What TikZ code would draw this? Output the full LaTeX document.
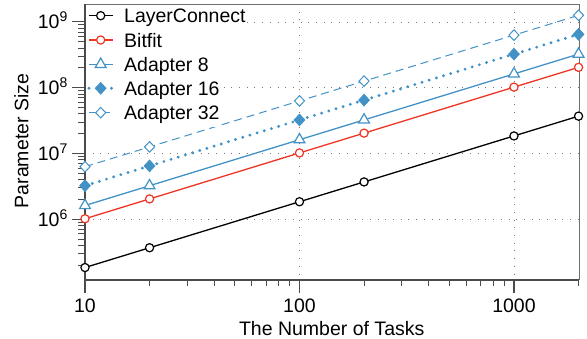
\documentclass[tikz,border=0pt]{standalone}
\usepackage{fontspec}
\setmainfont{Liberation Sans}
\usetikzlibrary{shapes.geometric}

\definecolor{bfred}{RGB}{238,52,36}
\definecolor{adblue}{RGB}{66,146,198}
\definecolor{axisgray}{RGB}{75,75,75}
\definecolor{framegray}{RGB}{110,110,110}
\definecolor{gridgray}{RGB}{120,120,120}

% log-log mapping: x = number of tasks, y = log10(parameter count)
\newcommand\px[1]{85+214.5*(log10(#1)-1)}
\newcommand\py[1]{219.3-65.8*((#1)-6)}

\begin{document}
\begin{tikzpicture}[x=1pt,y=-1pt,
  font=\fontsize{19.5}{22}\selectfont,
  gridline/.style={gridgray, line width=0.8pt, dash pattern=on 0.8pt off 6.9pt},
  axisline/.style={axisgray, line width=1.1pt},
  frameline/.style={framegray, line width=1pt},
  tickmark/.style={axisgray, line width=1.1pt},
  lcline/.style={black, line width=1.3pt},
  bfline/.style={bfred, line width=1.3pt},
  aaline/.style={adblue, line width=1.3pt},
  abline/.style={adblue, line width=3.2pt, line cap=round, dash pattern=on 0pt off 7.5pt},
  acline/.style={adblue, line width=1pt, dash pattern=on 8pt off 5pt},
  circmark/.style={circle, draw, fill=white, line width=1.2pt, minimum size=8.2pt, inner sep=0pt},
  trimark/.style={regular polygon, regular polygon sides=3, draw=adblue, fill=white,
    line width=1.2pt, minimum size=12.5pt, inner sep=0pt},
  fdiamark/.style={diamond, draw=adblue, fill=adblue, line width=0.8pt,
    minimum width=11pt, minimum height=12pt, inner sep=0pt},
  odiamark/.style={diamond, draw=adblue, fill=white, line width=1pt,
    minimum width=10.5pt, minimum height=11pt, inner sep=0pt},
  legtext/.style={anchor=base west, fill=white, inner xsep=1pt, inner ysep=3pt},
]
\useasboundingbox (0,0) rectangle (587,338);

% grid at the decades
\foreach \d in {6,...,9}
  \draw[gridline] (85,{\py{\d}}) -- (579,{\py{\d}});
\foreach \n in {100,1000}
  \draw[gridline] ({\px{\n}},4) -- ({\px{\n}},280);

% frame
\coordinate (bl) at (85,280);
\coordinate (tl) at (85,4);
\coordinate (tr) at (579,4);
\coordinate (br) at (579,280);
\draw[frameline] (tl) -- (tr) -- (br);
\draw[axisline] (tl) -- (bl) -- (br);

% y ticks (outside)
\foreach \d in {5,6,7,8}
  \foreach \m in {2,...,9}
    \draw[tickmark] (85,{\py{\d+log10(\m)}}) -- ++(-7,0);
\foreach \d in {6,...,9}{
  \draw[tickmark] (85,{\py{\d}}) -- ++(-12.7,0);
  \node[anchor=base east, inner sep=0pt] (ylab\d) at (67.5,{\py{\d}+7})
    {10\raisebox{7.3pt}{\fontsize{14}{14}\selectfont\d}};
}

% x ticks (outside)
\foreach \n in {20,30,...,90,200,300,...,900,2000}
  \draw[tickmark] ({\px{\n}},280) -- ++(0,6);
\foreach \n in {10,100,1000}{
  \draw[tickmark] ({\px{\n}},280) -- ++(0,13);
  \node[anchor=base, inner sep=0pt] (xlab\n) at ({\px{\n}},312.3) {\n};
}

% axis titles
\node[anchor=base, inner sep=0pt] (xtitle) at (331.7,335.3) {The Number of Tasks};
\node[anchor=base, rotate=90, inner sep=0pt] (ytitle) at (28.3,141) {Parameter Size};

% data points: log10 of parameters per task for each method
\foreach \name/\c in {lc/4.267, bf/5.0086, aa/5.2095, ab/5.5105, ac/5.7993}
  \foreach \n [count=\i] in {10,20,100,200,1000,2000}
    \coordinate (\name\i) at ({\px{\n}},{\py{\c+log10(\n)}});

\draw[acline] (ac1) -- (ac2) -- (ac3) -- (ac4) -- (ac5) -- (ac6);
\draw[abline] (ab1) -- (ab2) -- (ab3) -- (ab4) -- (ab5) -- (ab6);
\draw[aaline] (aa1) -- (aa2) -- (aa3) -- (aa4) -- (aa5) -- (aa6);
\draw[bfline] (bf1) -- (bf2) -- (bf3) -- (bf4) -- (bf5) -- (bf6);
\draw[lcline] (lc1) -- (lc2) -- (lc3) -- (lc4) -- (lc5) -- (lc6);

\foreach \i in {1,...,6}{
  \node[odiamark] (acm\i) at (ac\i) {};
  \node[fdiamark] (abm\i) at (ab\i) {};
  \node[trimark] (aam\i) at (aa\i) {};
  \node[circmark, draw=bfred] (bfm\i) at (bf\i) {};
  \node[circmark, draw=black] (lcm\i) at (lc\i) {};
}

% legend rows: sample line ends, marker spot and text baseline
\foreach \k/\y in {1/15.7, 2/40, 3/64.3, 4/88.3, 5/112.7}{
  \fill[white] (86,{\y-7}) rectangle (122,{\y+7});
  \coordinate (lga\k) at (89,\y);
  \coordinate (lgb\k) at (113.3,\y);
  \coordinate (lgm\k) at (100.7,\y);
  \coordinate (lgt\k) at (123,{\y+7});
}
\draw[lcline] (lga1) -- (lgb1);
\node[circmark, draw=black] (lgmark1) at (lgm1) {};
\node[legtext] (lgtext1) at (lgt1) {LayerConnect};

\draw[bfline] (lga2) -- (lgb2);
\node[circmark, draw=bfred] (lgmark2) at (lgm2) {};
\node[legtext] (lgtext2) at (lgt2) {Bitfit};

\draw[aaline] (lga3) -- (lgb3);
\node[trimark] (lgmark3) at (lgm3) {};
\node[legtext] (lgtext3) at (lgt3) {Adapter 8};

\draw[abline] (lga4) -- (lgb4);
\node[fdiamark] (lgmark4) at (lgm4) {};
\node[legtext] (lgtext4) at (lgt4) {Adapter 16};

\draw[acline] (lga5) -- (lgb5);
\node[odiamark] (lgmark5) at (lgm5) {};
\node[legtext] (lgtext5) at (lgt5) {Adapter 32};
\end{tikzpicture}
\end{document}
